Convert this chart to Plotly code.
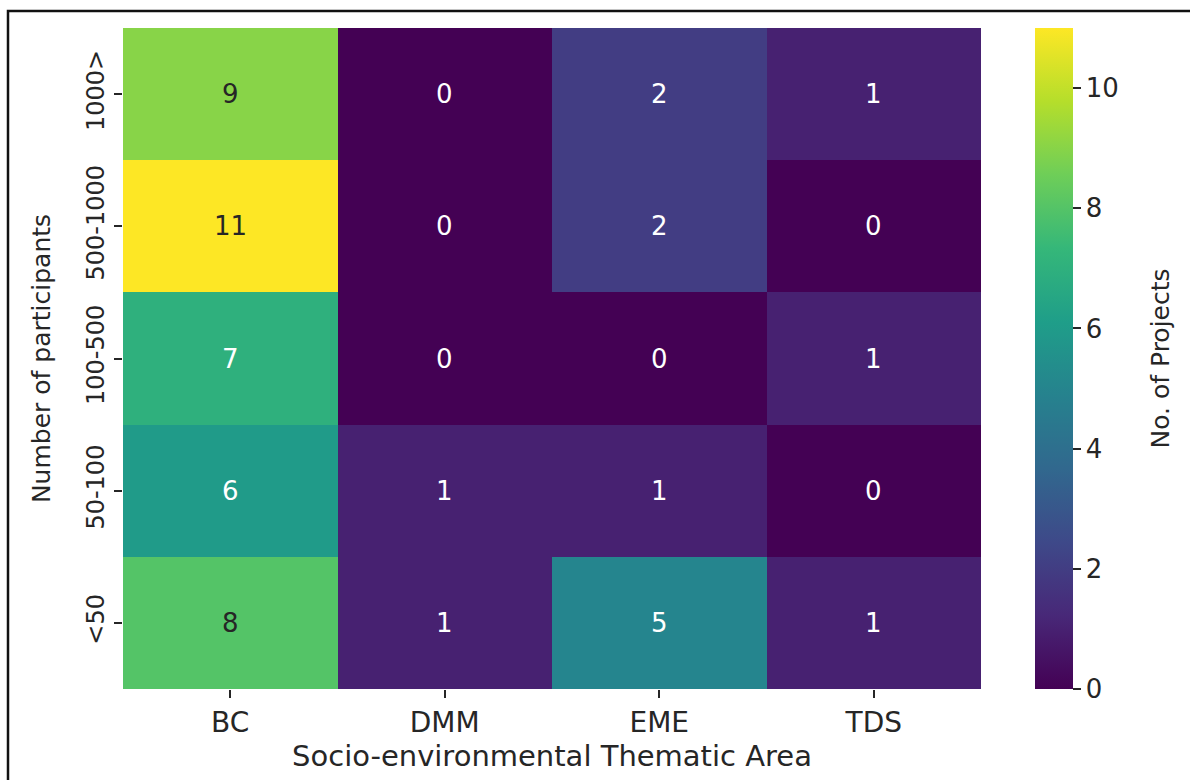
import plotly.graph_objects as go

# Project counts per participant band (rows) and thematic area (columns)
areas = ["BC", "DMM", "EME", "TDS"]
bands = ["1000>", "500-1000", "100-500", "50-100", "<50"]
counts = [
    [9, 0, 2, 1],
    [11, 0, 2, 0],
    [7, 0, 0, 1],
    [6, 1, 1, 0],
    [8, 1, 5, 1],
]

# Plot-area geometry in pixels (used to place the frame and colorbar)
W, H = 1190, 780
L, R, T, B = 123, 209, 28, 91
pw, ph = W - L - R, H - T - B


def px_x(x):
    return (x - L) / pw


def px_y(y):
    return (H - B - y) / ph


INK = "#262626"

fig = go.Figure(
    go.Heatmap(
        z=counts,
        x=areas,
        y=bands,
        colorscale="Viridis",
        zmin=0,
        zmax=11,
        hoverinfo="skip",
        colorbar=dict(
            x=px_x(1035),
            xanchor="left",
            xpad=0,
            y=0.5,
            yanchor="middle",
            ypad=0,
            len=1,
            lenmode="fraction",
            thickness=38,
            thicknessmode="pixels",
            outlinewidth=0,
            ticks="outside",
            ticklen=8,
            tickwidth=1.5,
            tickcolor=INK,
            tickvals=[0, 2, 4, 6, 8, 10],
            tickfont=dict(family="DejaVu Sans", size=26, color=INK),
        ),
    )
)

# Cell value labels: dark text on bright cells, white on dark ones
annotations = []
for i, band in enumerate(bands):
    for j, area in enumerate(areas):
        v = counts[i][j]
        annotations.append(
            dict(
                x=area,
                y=band,
                text=str(v),
                showarrow=False,
                font=dict(
                    family="DejaVu Sans",
                    size=26,
                    color=INK if v >= 8 else "#ffffff",
                ),
            )
        )

# Colorbar caption, rotated to read bottom-to-top
annotations.append(
    dict(
        text="No. of Projects",
        xref="paper",
        yref="paper",
        x=px_x(1160),
        y=0.5,
        xanchor="center",
        yanchor="middle",
        textangle=-90,
        showarrow=False,
        font=dict(family="DejaVu Sans", size=25, color=INK),
    )
)

fig.update_layout(
    width=W,
    height=H,
    margin=dict(l=L, r=R, t=T, b=B),
    paper_bgcolor="white",
    plot_bgcolor="white",
    annotations=annotations,
    xaxis=dict(
        title=dict(
            text="Socio-environmental Thematic Area",
            font=dict(family="DejaVu Sans", size=29, color=INK),
            standoff=8,
        ),
        tickfont=dict(family="DejaVu Sans", size=28, color=INK),
        ticks="outside",
        ticklen=8,
        tickwidth=1.5,
        tickcolor=INK,
        showgrid=False,
        zeroline=False,
        showline=False,
    ),
    yaxis=dict(
        title=dict(
            text="Number of participants",
            font=dict(family="DejaVu Sans", size=25, color=INK),
            standoff=24,
        ),
        tickfont=dict(family="DejaVu Sans", size=24, color=INK),
        tickangle=-90,
        ticks="outside",
        ticklen=8,
        tickwidth=1.5,
        tickcolor=INK,
        autorange="reversed",
        showgrid=False,
        zeroline=False,
        showline=False,
    ),
    shapes=[
        dict(
            type="rect",
            xref="paper",
            yref="paper",
            x0=px_x(8),
            x1=px_x(W + 20),
            y0=px_y(H + 20),
            y1=px_y(11),
            line=dict(color="#111111", width=2.5),
            fillcolor="rgba(0,0,0,0)",
            layer="above",
        )
    ],
)

fig.write_html("out.html")
